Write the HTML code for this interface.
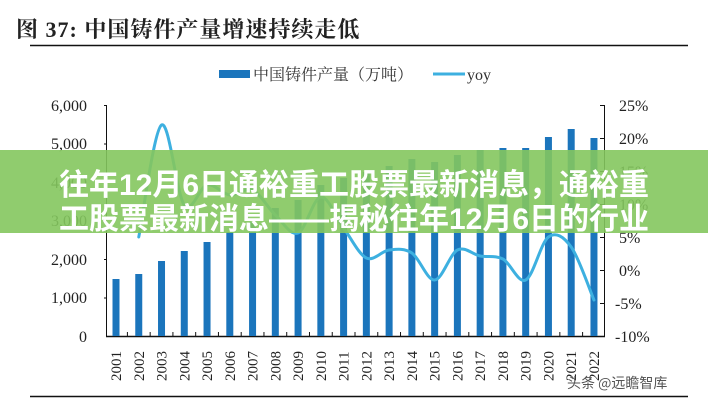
<!DOCTYPE html>
<html><head><meta charset="utf-8"><style>
html,body{margin:0;padding:0;background:#fff;}
svg{display:block}
.s{font-family:"Liberation Serif","Noto Serif CJK SC",serif;}
</style></head><body>
<svg width="708" height="400" viewBox="0 0 708 400" xmlns="http://www.w3.org/2000/svg">
<rect width="708" height="400" fill="#fff"/>
<text x="16" y="37" class="s" font-size="22" font-weight="bold" fill="#222" letter-spacing="1">图 37:  中国铸件产量增速持续走低</text>
<line x1="30" y1="45.5" x2="688" y2="45.5" stroke="#111" stroke-width="1.5"/>
<line x1="30" y1="396.5" x2="688" y2="396.5" stroke="#111" stroke-width="1.5"/>
<rect x="219" y="70" width="31" height="8" fill="#1b75bc"/>
<text x="253" y="80" class="s" font-size="16" fill="#333">中国铸件产量（万吨）</text>
<line x1="433" y1="74" x2="465" y2="74" stroke="#3db0e0" stroke-width="3"/>
<text x="467" y="80" class="s" font-size="16" fill="#333">yoy</text>
<g class="s" font-size="16" fill="#222" text-anchor="end">
<text x="87" y="111">6,000</text><text x="87" y="149">5,000</text><text x="87" y="188">4,000</text>
<text x="87" y="226">3,000</text><text x="87" y="265">2,000</text><text x="87" y="303">1,000</text><text x="87" y="342">0</text>
</g>
<g class="s" font-size="16" fill="#222">
<text x="619" y="111">25%</text><text x="619" y="144">20%</text><text x="619" y="177">15%</text>
<text x="619" y="210">10%</text><text x="619" y="243">5%</text><text x="619" y="276">0%</text>
<text x="615" y="309">-5%</text><text x="615" y="342">-10%</text>
</g>
<g stroke="#111" stroke-width="1">
<line x1="106.5" y1="105" x2="106.5" y2="336"/>
<line x1="104" y1="105.5" x2="106" y2="105.5"/><line x1="104" y1="144" x2="106" y2="144"/><line x1="104" y1="182.5" x2="106" y2="182.5"/><line x1="104" y1="221" x2="106" y2="221"/><line x1="104" y1="259.5" x2="106" y2="259.5"/><line x1="104" y1="298" x2="106" y2="298"/>
<line x1="604.5" y1="105" x2="604.5" y2="336"/>
<line x1="600" y1="105.5" x2="604" y2="105.5"/><line x1="600" y1="138.5" x2="604" y2="138.5"/><line x1="600" y1="171.5" x2="604" y2="171.5"/><line x1="600" y1="204.5" x2="604" y2="204.5"/><line x1="600" y1="237.5" x2="604" y2="237.5"/><line x1="600" y1="270.5" x2="604" y2="270.5"/><line x1="600" y1="303.5" x2="604" y2="303.5"/>
<line x1="106" y1="336.5" x2="605" y2="336.5" stroke-width="1.5"/>
</g>
<g id="bars" fill="#1b75bc"></g>
<g id="ticks" stroke="#111"></g>
<path id="yoy" fill="none" stroke="#3db0e0" stroke-width="3" stroke-linejoin="round" stroke-linecap="round" d=""/>
<g id="xl" class="s" font-size="15" fill="#222"></g>
<rect x="0" y="150" width="708" height="83" fill="#84c65e" fill-opacity="0.9"/>
<text x="354" y="195" text-anchor="middle" font-family="Liberation Sans,'Noto Sans CJK SC',sans-serif" font-weight="bold" font-size="30" fill="#fff">往年12月6日通裕重工股票最新消息，通裕重</text>
<text x="354" y="229" text-anchor="middle" font-family="Liberation Sans,'Noto Sans CJK SC',sans-serif" font-weight="bold" font-size="30" fill="#fff">工股票最新消息——揭秘往年12月6日的行业</text>
<text x="567" y="388" font-family="'Noto Sans CJK SC',sans-serif" font-size="14" fill="#555">头条 @远瞻智库</text>
</svg>
<script>
var tops=[279,274,261,251,242,232,222,208,200,185,178,172,166,159,162,155,150,148,148,137,129,138];
var ly=[null,237,125,205,185,195,190,215,233,197,228,258,250,253,280,250,256,259,280,237,247,300];
var ns="http://www.w3.org/2000/svg",b=document.getElementById("bars"),t=document.getElementById("ticks"),xl=document.getElementById("xl"),P=[];
for(var i=0;i<22;i++){var cx=116+i*22.76;
var r=document.createElementNS(ns,"rect");r.setAttribute("x",cx-3.5);r.setAttribute("y",tops[i]);r.setAttribute("width",7);r.setAttribute("height",336-tops[i]);b.appendChild(r);
var l=document.createElementNS(ns,"line");var tx=cx+11.4;l.setAttribute("x1",tx);l.setAttribute("x2",tx);l.setAttribute("y1",332);l.setAttribute("y2",336);if(i<21)t.appendChild(l);
var s=document.createElementNS(ns,"text");s.setAttribute("transform","translate("+(cx+5)+",381) rotate(-90)");s.textContent=2001+i;xl.appendChild(s);
if(ly[i]!=null)P.push([cx,ly[i]]);}
var d="M"+P[0][0]+","+P[0][1];
for(var k=0;k<P.length-1;k++){var p0=P[k-1]||P[k],p1=P[k],p2=P[k+1],p3=P[k+2]||p2;
d+=" C"+(p1[0]+(p2[0]-p0[0])/6)+","+(p1[1]+(p2[1]-p0[1])/6)+" "+(p2[0]-(p3[0]-p1[0])/6)+","+(p2[1]-(p3[1]-p1[1])/6)+" "+p2[0]+","+p2[1];}
document.getElementById("yoy").setAttribute("d",d);
</script>
</body></html>
